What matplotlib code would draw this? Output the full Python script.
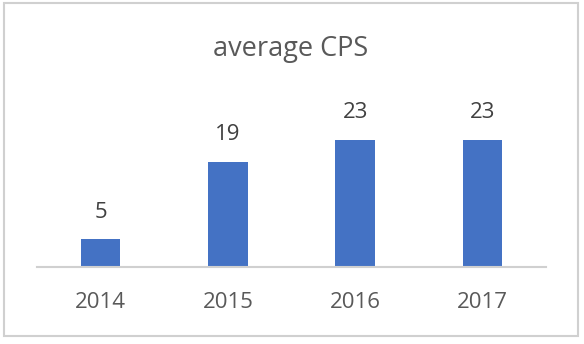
import matplotlib
matplotlib.use("Agg")
import matplotlib.pyplot as plt
from matplotlib.patches import Rectangle

years = ["2014", "2015", "2016", "2017"]
cps = [5, 19, 23, 23]

plt.rcParams['font.family'] = ['Open Sans', 'DejaVu Sans']

fig = plt.figure(figsize=(5.84, 3.44), dpi=100)
fig.patch.set_facecolor("white")
fig.patches.append(Rectangle((4/584, 1-336/344), 574/584, 333/344, transform=fig.transFigure,
                             fill=False, edgecolor="#d0d0d0", linewidth=1.5))

ax = fig.add_axes([37/584, 1-267/344, 509/584, 187/344])
x = list(range(len(years)))
bars = ax.bar(x, cps, width=0.31, color="#4472C4")
ax.set_xlim(-0.5, len(years)-0.5)
ax.set_ylim(0, 187/5.52)
for s in ["top", "right", "left"]:
    ax.spines[s].set_visible(False)
ax.spines["bottom"].set_color("#d0d0d0")
ax.spines["bottom"].set_linewidth(1.5)
ax.set_yticks([])
ax.set_xticks(x)
ax.set_xticklabels(years, fontsize=16, color="#595959")
ax.tick_params(axis="x", length=0, pad=18)
for xi, v in zip(x, cps):
    ax.annotate(str(v), (xi, v), xytext=(0, 12), textcoords="offset points",
                ha="center", va="bottom", fontsize=16, color="#404040")
fig.text(0.5 * (4+578)/584, 1-49/344, "average CPS", ha="center", va="center",
         fontsize=19.5, color="#595959")
fig.savefig("out.png", dpi=100)
